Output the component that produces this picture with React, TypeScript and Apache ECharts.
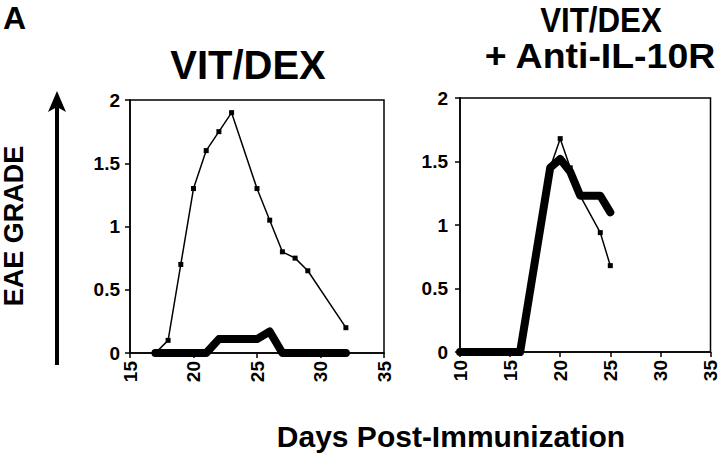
import React, { useEffect, useRef } from "react";
import * as echarts from "echarts";

// Left panel: VIT/DEX
const leftThinDays = [17, 18, 19, 20, 21, 22, 23, 25, 26, 27, 28, 29, 32];
const leftThinGrade = [0, 0.1, 0.7, 1.3, 1.6, 1.75, 1.9, 1.3, 1.05, 0.8, 0.75, 0.65, 0.2];
const leftThickDays = [17, 18, 19, 20, 21, 22, 23, 24, 25, 26, 27, 28, 29, 30, 31, 32];
const leftThickGrade = [0, 0, 0, 0, 0, 0.11, 0.11, 0.11, 0.11, 0.17, 0, 0, 0, 0, 0, 0];

// Right panel: VIT/DEX + Anti-IL-10R
const rightThinDays = [10, 16, 19, 20, 21, 22, 24, 25];
const rightThinGrade = [0, 0, 1.45, 1.68, 1.45, 1.23, 0.94, 0.68];
const rightThickDays = [10, 16, 19, 20, 21, 22, 23, 24, 25];
const rightThickGrade = [0, 0, 1.45, 1.52, 1.42, 1.23, 1.23, 1.23, 1.1];

const leftTitle = "VIT/DEX";
const rightTitle1 = "VIT/DEX";
const rightTitle2 = "+ Anti-IL-10R";
const xTitle = "Days Post-Immunization";
const yTitle = "EAE GRADE";
const panelLetter = "A";

const FONT = "'Liberation Sans', Arial, Helvetica, sans-serif";

const pairs = (xs: number[], ys: number[]) => xs.map((x, i) => [x, ys[i]]);

function xAxisCfg(gridIndex: number, min: number) {
  return {
    type: "value" as const,
    gridIndex,
    min,
    max: 35,
    interval: 5,
    axisLine: { show: true, onZero: false, lineStyle: { color: "#000", width: 1.5 } },
    axisTick: { show: true, inside: false, length: 5, lineStyle: { color: "#000", width: 1.5 } },
    axisLabel: {
      rotate: 90,
      margin: 8,
      color: "#000",
      fontSize: 19,
      fontWeight: "bold" as const,
      fontFamily: FONT,
    },
    splitLine: { show: false },
  };
}

function yAxisCfg(gridIndex: number, margin: number) {
  return {
    type: "value" as const,
    gridIndex,
    min: 0,
    max: 2,
    interval: 0.5,
    axisLine: { show: true, onZero: false, lineStyle: { color: "#000", width: 1.5 } },
    axisTick: { show: true, inside: false, length: 5, lineStyle: { color: "#000", width: 1.5 } },
    axisLabel: {
      margin,
      color: "#000",
      fontSize: 19,
      fontWeight: "bold" as const,
      fontFamily: FONT,
    },
    splitLine: { show: false },
  };
}

function textEl(text: string, x: number, y: number, fontSize: number, extra: any = {}) {
  return {
    type: "text",
    x,
    y,
    ...extra,
    style: {
      text,
      x: 0,
      y: 0,
      align: "center",
      verticalAlign: "middle",
      fontSize,
      fontWeight: "bold",
      fontFamily: FONT,
      fill: "#000",
    },
  };
}

export default function App() {
  const ref = useRef<HTMLDivElement>(null);
  useEffect(() => {
    if (!ref.current) return;
    const chart = echarts.init(ref.current, null, { renderer: "svg" });
    const thin = { color: "#000", width: 1.5 };
    const thick = { color: "#000", width: 8, cap: "round" as const, join: "round" as const };
    chart.setOption({
      animation: false,
      backgroundColor: "#fff",
      grid: [
        { left: 130, top: 100, width: 254, height: 253, show: true, borderColor: "#000", borderWidth: 1.5 },
        { left: 460, top: 98, width: 251, height: 254, show: true, borderColor: "#000", borderWidth: 1.5 },
      ],
      xAxis: [xAxisCfg(0, 15), xAxisCfg(1, 10)],
      yAxis: [yAxisCfg(0, 10), yAxisCfg(1, 12)],
      series: [
        {
          type: "line",
          xAxisIndex: 0,
          yAxisIndex: 0,
          data: pairs(leftThickDays, leftThickGrade),
          showSymbol: false,
          symbol: "none",
          lineStyle: thick,
          z: 2,
        },
        {
          type: "line",
          xAxisIndex: 0,
          yAxisIndex: 0,
          data: pairs(leftThinDays, leftThinGrade),
          symbol: "rect",
          symbolSize: 5,
          itemStyle: { color: "#000" },
          lineStyle: thin,
          z: 3,
        },
        {
          type: "line",
          xAxisIndex: 1,
          yAxisIndex: 1,
          data: pairs(rightThickDays, rightThickGrade),
          showSymbol: false,
          symbol: "none",
          lineStyle: thick,
          z: 2,
        },
        {
          type: "line",
          xAxisIndex: 1,
          yAxisIndex: 1,
          data: pairs(rightThinDays, rightThinGrade),
          symbol: "rect",
          symbolSize: 5,
          itemStyle: { color: "#000" },
          lineStyle: thin,
          z: 3,
        },
      ],
      graphic: [
        textEl(panelLetter, 14.5, 18, 32),
        textEl(leftTitle, 248, 65, 40),
        textEl(rightTitle1, 601, 19.5, 34, { scaleX: 0.92, scaleY: 1.05 }),
        textEl(rightTitle2, 600, 55.5, 35, { scaleX: 1.07 }),
        textEl(xTitle, 451, 436, 30),
        textEl(yTitle, 14, 226, 27, { rotation: Math.PI / 2 }),
        {
          type: "line",
          shape: { x1: 57, y1: 365, x2: 57, y2: 106 },
          style: { stroke: "#000", lineWidth: 4 },
        },
        {
          type: "polygon",
          shape: { points: [[57, 91], [48, 112], [57, 107], [66, 112]] },
          style: { fill: "#000" },
        },
      ],
    });
    return () => chart.dispose();
  }, []);
  return (
    <div
      ref={ref}
      style={{ position: "absolute", left: 0, top: 0, width: 720, height: 456 }}
    />
  );
}
